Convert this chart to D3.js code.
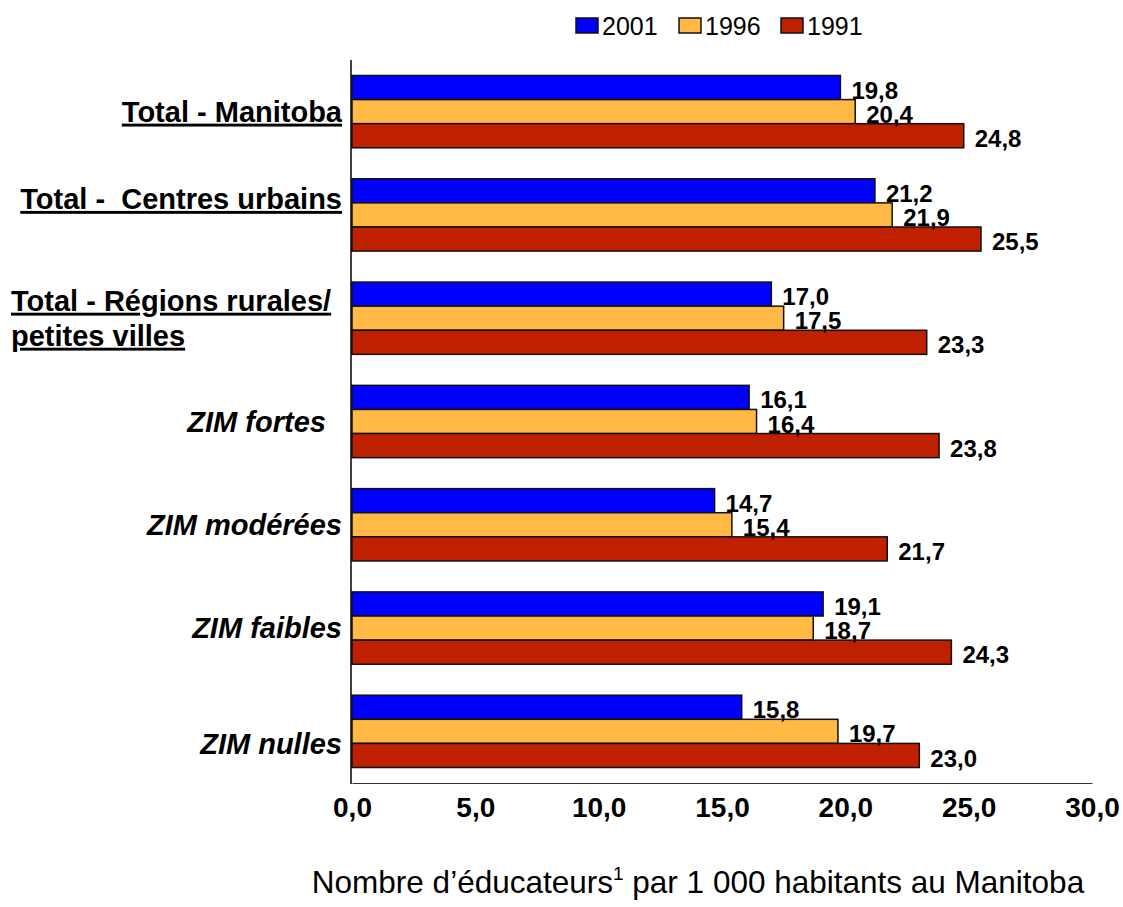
<!DOCTYPE html>
<html>
<head>
<meta charset="utf-8">
<script src="https://cdn.jsdelivr.net/npm/d3@7"></script>
<style>
  body { margin: 0; background: #fff; }
  svg { display: block; font-family: Arial, "Liberation Sans", sans-serif; }
</style>
</head>
<body>
<svg width="1123" height="907"></svg>
<script>
// educators per 1 000 inhabitants, Manitoba
const categories = ["Total - Manitoba", "Total -  Centres urbains", "Total - Régions rurales/|petites villes",
                    "ZIM fortes  ", "ZIM modérées", "ZIM faibles", "ZIM nulles"]
const years = ["2001", "1996", "1991"]
const v2001 = [19.8, 21.2, 17.0, 16.1, 14.7, 19.1, 15.8]
const v1996 = [20.4, 21.9, 17.5, 16.4, 15.4, 18.7, 19.7]
const v1991 = [24.8, 25.5, 23.3, 23.8, 21.7, 24.3, 23.0]
const xTicks = [0, 5, 10, 15, 20, 25, 30]

const colors = {"2001": "#0000ff", "1996": "#ffb944", "1991": "#bf2000"}
const seriesVals = {"2001": v2001, "1996": v1996, "1991": v1991}

const svg = d3.select('svg')
const fmt = v => d3.format('.1f')(v).replace('.', ',')

const x = d3.scaleLinear().domain([0, 30]).range([352, 1092])
const y = d3.scaleBand().domain(categories).range([60, 783]).paddingInner(0.3).paddingOuter(0.15)
const yy = d3.scaleBand().domain(years).range([0, y.bandwidth()])

// bars, one series after the other
years.forEach(yr => {
	svg.append('g').selectAll('rect')
		.data(categories.map((c, i) => ({c, v: seriesVals[yr][i]})))
		.join('rect')
		.attr('x', x(0))
		.attr('y', d => y(d.c) + yy(yr))
		.attr('width', d => x(d.v) - x(0))
		.attr('height', yy.bandwidth())
		.attr('fill', colors[yr])
		.attr('stroke', '#111')
		.attr('stroke-width', 1.5)
})

// value labels
years.forEach(yr => {
	svg.append('g').selectAll('text')
		.data(categories.map((c, i) => ({c, v: seriesVals[yr][i]})))
		.join('text')
		.attr('x', d => x(d.v) + 11)
		.attr('y', d => y(d.c) + yy(yr) + yy.bandwidth() - 1)
		.attr('font-size', 24)
		.attr('font-weight', 'bold')
		.text(d => fmt(d.v))
})

// axes
svg.append('line').attr('x1', 351).attr('x2', 351).attr('y1', 60).attr('y2', 784)
	.attr('stroke', '#000').attr('stroke-width', 1.5)

const xAxis = svg.append('g')
	.attr('transform', 'translate(0,783)')
	.call(d3.axisBottom(x).tickValues(xTicks).tickSize(0).tickPadding(14).tickFormat(fmt))
xAxis.select('.domain').attr('stroke', '#333').attr('stroke-width', 1.2)
xAxis.selectAll('text')
	.attr('font-size', 28)
	.attr('font-weight', 'bold')
	.attr('font-family', 'Arial, "Liberation Sans", sans-serif')
	.attr('fill', '#000')

// category labels
const labelShift = [0, -16, 0, 0, 0, 0, 13]
categories.forEach((c, i) => {
	const italic = c.startsWith('ZIM')
	const lines = c.split('|')
	const cy = y(c) + y.bandwidth() / 2 + labelShift[i]
	const t = svg.append('text')
		.attr('font-size', 29)
		.attr('font-weight', 'bold')
		.attr('font-style', italic ? 'italic' : 'normal')
		.attr('text-decoration', italic ? 'none' : 'underline')
		.style('white-space', 'pre')
	if (lines.length > 1) {
		lines.forEach((ln, j) => {
			t.append('tspan').attr('x', 11)
				.attr('y', cy + 10 + (j - (lines.length - 1) / 2) * 35)
				.text(ln)
		})
	} else {
		t.attr('x', 342).attr('y', cy + 10).attr('text-anchor', 'end').text(c)
	}
})

// legend
const legX = [576, 679, 781]
years.forEach((yr, i) => {
	svg.append('rect').attr('x', legX[i]).attr('y', 18).attr('width', 22).attr('height', 15)
		.attr('fill', colors[yr]).attr('stroke', '#111').attr('stroke-width', 1.5)
	svg.append('text').attr('x', legX[i] + 26).attr('y', 35)
		.attr('font-size', 25).text(yr)
})

// bottom title
const title = svg.append('text').attr('x', 698).attr('y', 893)
	.attr('text-anchor', 'middle').attr('font-size', 31.5)
title.append('tspan').text('Nombre d’éducateurs')
title.append('tspan').attr('font-size', 19).attr('dy', -13).text('1')
title.append('tspan').attr('dy', 13).text(' par 1 000 habitants au Manitoba')
</script>
</body>
</html>
